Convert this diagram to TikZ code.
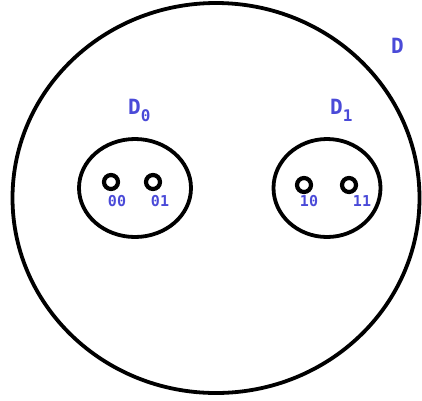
\documentclass[tikz,border=0pt]{standalone}
\usepackage{fontspec}
\setmonofont{DejaVu Sans Mono}
\usepackage{tikz}
\usetikzlibrary{shapes.geometric}
\definecolor{lblue}{HTML}{4A4AD8}
\newcommand{\sublab}[1]{\raisebox{-7pt}{\fontsize{16}{16}\selectfont #1}}

\begin{document}
\begin{tikzpicture}[
  x=1pt, y=-1pt,
  region/.style={draw, ellipse, line width=3.8pt, inner sep=0pt},
  pt/.style={draw, circle, line width=4.2pt, minimum size=14pt, inner sep=0pt},
  dlab/.style={text=lblue, anchor=base west, inner sep=0pt, font=\ttfamily\bfseries\fontsize{21}{21}\selectfont},
  plab/.style={text=lblue, font=\ttfamily\bfseries\fontsize{15}{15}\selectfont, inner sep=0pt}
]
\useasboundingbox (0,0) rectangle (422,400);

% Whole set
\node[region, minimum width=407pt, minimum height=390pt] (D) at (216,198) {};
\node[dlab] (dl) at (391,53) {D};

% Sub-regions
\node[region, minimum width=112pt, minimum height=98pt] (D0) at (135,188) {};
\node[region, minimum width=107pt, minimum height=98pt] (D1) at (327,188) {};
\node[dlab] (d0l) at (128,114) {D\sublab{0}};
\node[dlab] (d1l) at (330,114) {D\sublab{1}};

% Points
\node[pt] (p00) at (111,182) {};
\node[pt] (p01) at (153,182) {};
\node[pt] (p10) at (304,185) {};
\node[pt] (p11) at (349,185) {};
\node[plab] (l00) at (117,201) {00};
\node[plab] (l01) at (160,201) {01};
\node[plab] (l10) at (309,201) {10};
\node[plab] (l11) at (362,201) {11};
\end{tikzpicture}
\end{document}
